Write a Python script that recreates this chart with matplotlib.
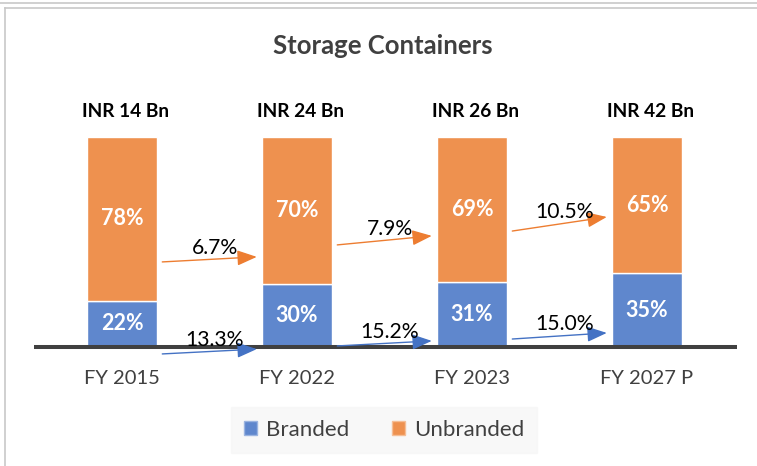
import matplotlib
matplotlib.use('Agg')
import matplotlib.pyplot as plt
from matplotlib.lines import Line2D
from matplotlib.patches import Patch
import numpy as np

# data
years = ['FY 2015', 'FY 2022', 'FY 2023', 'FY 2027 P']
market_size = ['INR 14 Bn', 'INR 24 Bn', 'INR 26 Bn', 'INR 42 Bn']
branded = [22, 30, 31, 35]
unbranded = [78, 70, 69, 65]
cagr_unbranded = ['6.7%', '7.9%', '10.5%']
cagr_branded = ['13.3%', '15.2%', '15.0%']

plt.rcParams['font.family'] = ['Lato', 'DejaVu Sans']

W, H = 757, 466
fig = plt.figure(figsize=(W / 100, H / 100), dpi=100)
fig.patch.set_facecolor('white')

def fx(px):
    return px / W

def fy(py):
    return 1 - py / H

# axes: x from px 34 to 737, y from px 370 (bottom) to 80 (top)
ax = fig.add_axes([fx(34), fy(370), fx(737) - fx(34), fy(80) - fy(370)])
ax.set_xlim(-0.503, 3.514)
ax.set_ylim(-10.95, 127.1)
ax.axis('off')

blue = '#5F87CD'
orange = '#EE914F'
x = np.arange(len(years))

ax.bar(x, branded, width=0.4, color=blue, edgecolor='white', linewidth=1, zorder=2)
ax.bar(x, unbranded, width=0.4, bottom=branded, color=orange, edgecolor='white',
       linewidth=1, zorder=2)
ax.axhline(0, color='#404040', lw=2.9, zorder=3)

for i in range(len(years)):
    ax.text(x[i], branded[i] / 2, f'{branded[i]}%', ha='center', va='center',
            color='white', fontsize=15.5, fontweight='bold', zorder=4)
    ax.text(x[i], branded[i] + unbranded[i] / 2, f'{unbranded[i]}%', ha='center',
            va='center', color='white', fontsize=15.5, fontweight='bold', zorder=4)
    ax.text(x[i] + 0.02, 112, market_size[i], ha='center', va='center',
            color='black', fontsize=13.8, fontweight='bold')
    ax.text(x[i], -14.8, years[i], ha='center', va='center', color='#404040',
            fontsize=14.5, clip_on=False)

# growth arrows between bars (start/end y levels)
orange_lv = [(40.5, 42.9), (48.6, 52.9), (55.2, 61.9)]
blue_lv = [(-3.3, -1.0), (0.5, 2.9), (3.8, 6.7)]
arrow_style = '-|>,head_length=1.2,head_width=0.47'
for i in range(3):
    for lv, col, lab in [(orange_lv[i], '#ED7D31', cagr_unbranded[i]),
                         (blue_lv[i], '#4472C4', cagr_branded[i])]:
        x0 = x[i] + 0.23
        x1 = x[i] + 0.77
        ax.annotate('', xy=(x1, lv[1]), xytext=(x0, lv[0]),
                    arrowprops=dict(arrowstyle=arrow_style, color=col, lw=1,
                                    mutation_scale=10, shrinkA=0, shrinkB=0),
                    zorder=5, annotation_clip=False)
        ax.text((x0 + x1) / 2 + 0.03, (lv[0] + lv[1]) / 2 + 5.5, lab,
                ha='center', va='center', color='black', fontsize=15.2, zorder=6)

fig.text(fx(383), fy(46), 'Storage Containers', ha='center', va='center',
         color='#404040', fontsize=18.5, fontweight='bold')

handles = [Patch(facecolor=blue, edgecolor='#9BB4E0', label='Branded'),
           Patch(facecolor=orange, edgecolor='#F5BE96', label='Unbranded')]
leg = fig.legend(handles=handles, loc='center', bbox_to_anchor=(fx(384), fy(430)),
                 ncol=2, frameon=True, fontsize=16, handlelength=0.6,
                 handleheight=0.6, handletextpad=0.4, columnspacing=1.9,
                 borderpad=0.6, borderaxespad=0, fancybox=False)
leg.get_frame().set_facecolor('#F7F7F7')
leg.get_frame().set_edgecolor('#F7F7F7')
for t in leg.get_texts():
    t.set_color('#404040')

# outer frame lines
fig.add_artist(Line2D([0, 1], [fy(2.5), fy(2.5)], color='#C8C8C8', lw=1.2))
fig.add_artist(Line2D([fx(4.5), 1], [fy(7.5), fy(7.5)], color='#C8C8C8', lw=1.2))
fig.add_artist(Line2D([fx(4.5), fx(4.5)], [fy(7.5), 0], color='#C8C8C8', lw=1.2))

fig.savefig('out.png', dpi=100, facecolor='white')
